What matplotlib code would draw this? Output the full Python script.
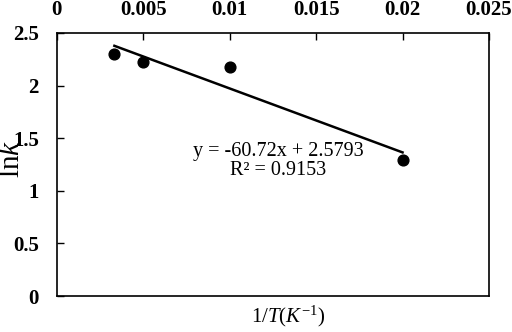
import matplotlib
matplotlib.use("Agg")
import matplotlib.pyplot as plt
import numpy as np

inv_T = [0.00333, 0.005, 0.01, 0.02]
ln_k = [2.30, 2.22, 2.18, 1.29]
slope = -60.72
intercept = 2.5793
x_ticks = [0, 0.005, 0.01, 0.015, 0.02, 0.025]
x_tick_labels = ["0", "0.005", "0.01", "0.015", "0.02", "0.025"]
y_ticks = [0, 0.5, 1, 1.5, 2, 2.5]
y_tick_labels = ["0", "0.5", "1", "1.5", "2", "2.5"]

plt.rcParams['font.family'] = ['Liberation Serif', 'DejaVu Serif']
plt.rcParams['mathtext.fontset'] = 'custom'
plt.rcParams['mathtext.rm'] = 'Liberation Serif'
plt.rcParams['mathtext.it'] = 'Liberation Serif:italic'

fig = plt.figure(figsize=(5.12, 3.32), dpi=100)
ax = fig.add_axes([0.111, 0.108, 0.844, 0.793])

ax.scatter(inv_T, ln_k, s=60, color='black', zorder=3)
xl = np.array([min(inv_T), max(inv_T)])
ax.plot(xl, slope * xl + intercept, color='black', lw=1.8)

ax.set_xlim(0, 0.025)
ax.set_ylim(0, 2.5)
ax.xaxis.tick_top()
ax.set_xticks(x_ticks)
ax.set_xticklabels(x_tick_labels, fontsize=15, fontweight='bold')
ax.set_yticks(y_ticks)
ax.set_yticklabels(y_tick_labels, fontsize=15, fontweight='bold')
ax.tick_params(axis='x', direction='in', length=5, width=1, pad=9)
ax.tick_params(axis='y', direction='in', length=5, width=1, pad=13)
for s in ax.spines.values():
    s.set_linewidth(1.2)

ax.xaxis.set_label_position('bottom')
ax.set_xlabel(r'1/$\it{T}$($\it{K}^{-1}$)', fontsize=15)
ax.xaxis.set_label_coords(0.535, -0.03, transform=ax.transAxes)
ax.xaxis.label.set_va('top')
ax.set_ylabel(r'ln$\it{k}$', fontsize=21)
ax.yaxis.set_label_coords(-0.104, 0.52, transform=ax.transAxes)
ax.yaxis.label.set_va('center')

ax.text(0.0128, 1.28, 'y = -60.72x + 2.5793\nR² = 0.9153', fontsize=14.5,
        ha='center', va='center', linespacing=1.0)

fig.savefig('out.png', dpi=100)
